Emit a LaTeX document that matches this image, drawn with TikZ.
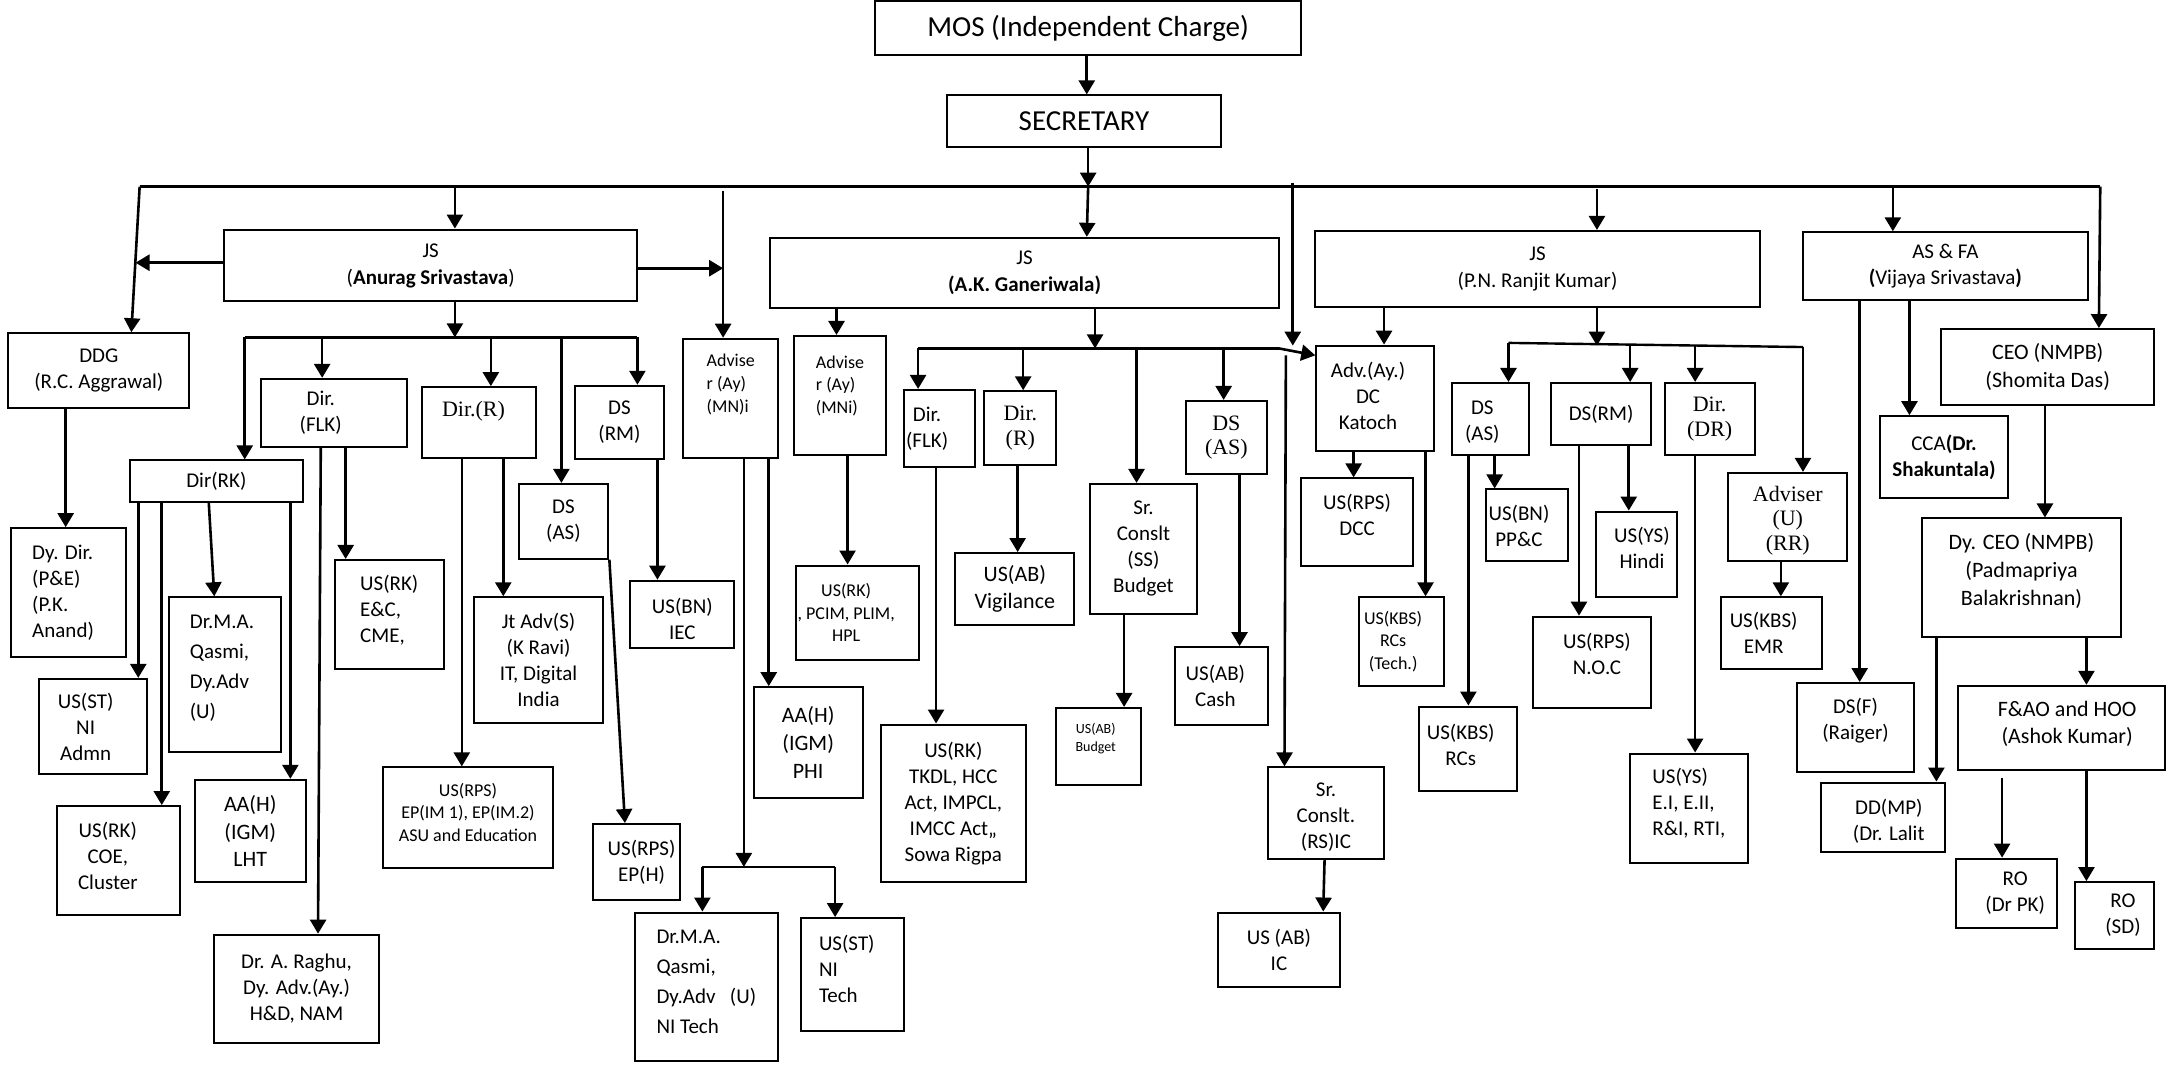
\documentclass[tikz,border=0pt]{standalone}
\usepackage{fontspec}
\setmainfont{Carlito}
\newfontfamily\tms{Liberation Serif}
\usetikzlibrary{arrows.meta}
\newcommand\bx[7][]{%
  \node[box,minimum width={(#5-#3)*0.6913pt},minimum height={(#6-#4)*0.6913pt}] (#2) at ({(#3+#5)/2},{(#4+#6)/2}) {};
  \node[txt,#1] (#2-t) at (#2.center) {#7};}
\begin{document}
\begin{tikzpicture}[x=0.6913pt,y=-0.6913pt,
  box/.style={draw,line width=1pt,inner sep=0pt,rectangle},
  txt/.style={inner sep=0pt,align=center,font=\fontsize{10.5}{13}\selectfont},
  big/.style={font=\fontsize{14.5}{17}\selectfont},
  js/.style={font=\fontsize{10.5}{13.5}\selectfont},
  jsb/.style={font=\fontsize{10.5}{13.3}\selectfont},
  small/.style={font=\fontsize{9}{11.3}\selectfont},
  tiny/.style={font=\fontsize{7}{9}\selectfont},
  tm/.style={font=\tms\fontsize{11}{12.2}\selectfont},
  sp/.style={font=\fontsize{10.5}{15}\selectfont},
  mid/.style={font=\fontsize{11}{13.8}\selectfont},
  arr/.style={line width=1.3pt,-{Triangle[length=7pt,width=8pt]}},
  ln/.style={line width=1.2pt}]
\useasboundingbox (0,0) rectangle (1568,770);
% ---- boxes ----
\bx[big]{mos}{633}{1}{941}{40}{MOS (Independent Charge)}
\bx[big]{sec}{685}{69}{883}{106}{SECRETARY}
\bx[js]{js1}{162}{166}{461}{218}{JS\\(\textbf{Anurag Srivastava})}
\bx[js]{js2}{557}{172}{925}{223}{JS\\\textbf{(A.K. Ganeriwala)}}
\bx[jsb]{js3}{951}{167}{1273}{222}{JS\\(P.N. Ranjit Kumar)}
\bx[jsb]{asfa}{1304}{168}{1510}{217}{AS \& FA\\\textbf{(}Vijaya Srivastava\textbf{)}}
\bx[mid]{ceo}{1404}{238}{1558}{293}{CEO (NMPB)\\(Shomita Das)}
\bx{ddg}{6}{241}{137}{295}{DDG\\(R.C. Aggrawal)}
\bx[anchor=west,align=left,xshift=-18.3pt]{dydir}{8}{382}{91}{475}{Dy. Dir.\\(P\&E)\\(P.K.\\Anand)}
% JS1 subtree
\bx{dirrk}{94}{333}{219}{363}{Dir(RK)}
\bx[xshift=-6.6pt]{dirflk1}{189}{274}{294}{323}{Dir.\\(FLK)}
\bx[tm,yshift=5.4pt,xshift=-2.8pt]{dirr1}{305}{280}{388}{331}{Dir.(R)}
\bx{dsas1}{375}{350}{440}{404}{DS\\(AS)}
\bx{dsrm1}{416}{279}{480}{332}{DS\\(RM)}
\bx[xshift=-3.5pt]{usst1}{28}{491}{106}{560}{US(ST)\\NI\\Admn}
\bx[sp,anchor=west,align=left,xshift=-17.6pt,yshift=3.5pt]{qasmi1}{122}{432}{203}{544}{Dr.M.A.\\Qasmi,\\Dy.Adv\\(U)}
\bx[xshift=-5.2pt,yshift=2.4pt]{usrk1}{41}{583}{130}{662}{US(RK)\\COE,\\Cluster}
\bx[mid]{aah1}{141}{564}{221}{638}{AA(H)\\(IGM)\\LHT}
\bx[align=left,yshift=2.1pt]{usrk2}{242}{405}{321}{484}{US(RK)\\E\&C,\\CME,}
\bx{raghu}{155}{676}{274}{754}{Dr. A. Raghu,\\Dy. Adv.(Ay.)\\H\&D, NAM}
\bx{jtadv}{343}{432}{436}{523}{Jt Adv(S)\\(K Ravi)\\IT, Digital\\India}
\bx[small,yshift=2.8pt]{usrps1}{277}{555}{400}{628}{US(RPS)\\EP(IM 1), EP(IM.2)\\ASU and Education}
\bx[xshift=2.4pt]{usrps2}{429}{596}{492}{651}{US(RPS)\\EP(H)}
\bx[yshift=-2.1pt]{usbn1}{456}{420}{531}{469}{US(BN)\\IEC}
% Adviser (MN)i
\bx[small,align=left,yshift=6.9pt]{adv1}{494}{245}{563}{331}{Advise\\r (Ay)\\(MN)i}
\bx[mid]{aah2}{545}{497}{624}{577}{AA(H)\\(IGM)\\PHI}
\bx[sp,anchor=west,align=left,xshift=-25.2pt,yshift=2.1pt]{qasmi2}{459}{660}{563}{767}{Dr.M.A.\\Qasmi,\\Dy.Adv\ \ \ (U)\\NI Tech}
\bx[anchor=west,align=left,xshift=-16.9pt,yshift=2.8pt]{usst2}{579}{664}{654}{746}{US(ST)\\NI\\Tech}
% JS2 subtree
\bx[small,align=left,yshift=4.8pt]{adv2}{574}{243}{641}{329}{Advise\\r (Ay)\\(MNi)}
\bx[small,xshift=-5.9pt]{usrk3}{576}{409}{665}{477}{US(RK)\\, PCIM, PLIM,\\HPL}
\bx[xshift=-6.2pt]{dirflk2}{654}{282}{705}{338}{Dir.\\(FLK)}
\bx[tm]{dirr2}{712}{283}{764}{336}{Dir.\\(R)}
\bx{usrk4}{637}{524}{742}{638}{US(RK)\\TKDL, HCC\\Act, IMPCL,\\IMCC Act,,\\Sowa Rigpa}
\bx[mid]{usabv}{691}{400}{777}{452}{US(AB)\\Vigilance}
\bx{srcons}{788}{350}{866}{444}{Sr.\\Conslt\\(SS)\\Budget}
\bx[tiny,yshift=3.8pt,xshift=-1.4pt]{usabb}{764}{512}{825}{568}{US(AB)\\Budget}
\bx[tm]{dsas2}{858}{290}{916}{343}{DS\\(AS)}
\bx[xshift=-3.1pt]{usabc}{850}{468}{917}{524}{US(AB)\\Cash}
\bx[yshift=-2.1pt]{srcons2}{917}{555}{1001}{621}{Sr.\\Conslt.\\(RS)IC}
\bx{usabic}{881}{660}{969}{714}{US (AB)\\IC}
% JS3 subtree
\bx[xshift=-3.5pt,yshift=1.4pt]{advdc}{952}{250}{1037}{326}{Adv.(Ay.)\\DC\\Katoch}
\bx[yshift=3.5pt]{usrpsdcc}{941}{346}{1022}{409}{US(RPS)\\DCC}
\bx[small,xshift=-4.1pt]{uskbst}{983}{432}{1044}{496}{US(KBS)\\RCs\\(Tech.)}
\bx[xshift=-4.1pt,yshift=-1.4pt]{dsas3}{1050}{277}{1106}{329}{DS\\(AS)}
\bx[xshift=-4.1pt]{usbnpp}{1075}{354}{1134}{406}{US(BN)\\PP\&C}
\bx[xshift=-3.5pt,yshift=1.7pt]{uskbs}{1026}{511}{1097}{572}{US(KBS)\\RCs}
\bx{dsrm3}{1122}{277}{1194}{322}{DS(RM)}
\bx[xshift=2.4pt,yshift=4.1pt]{usrpsnoc}{1109}{446}{1194}{512}{US(RPS)\\N.O.C}
\bx[xshift=2.8pt,yshift=3.1pt]{usyshindi}{1154}{370}{1213}{432}{US(YS)\\Hindi}
\bx[tm]{dirdr}{1204}{277}{1269}{329}{Dir.\\(DR)}
\bx[align=left,yshift=2.4pt]{usysei}{1179}{545}{1264}{624}{US(YS)\\E.I, E.II,\\R\&I, RTI,}
\bx[tm,yshift=-1.7pt]{advu}{1250}{342}{1336}{406}{Adviser\\(U)\\(RR)}
\bx[xshift=-4.1pt]{uskbsemr}{1245}{432}{1318}{484}{US(KBS)\\EMR}
% AS & FA / CEO subtree
\bx{cca}{1360}{301}{1452}{360}{CCA\textbf{(Dr.}\\\textbf{Shakuntala)}}
\bx[yshift=3.5pt]{dsf}{1300}{494}{1384}{558}{DS(F)\\(Raiger)}
\bx[mid,yshift=3.5pt]{dyceo}{1390}{375}{1534}{461}{Dy. CEO (NMPB)\\(Padmapriya\\Balakrishnan)}
\bx[mid,xshift=2.8pt,yshift=2.1pt]{fao}{1416}{496}{1566}{557}{F\&AO and HOO\\(Ashok Kumar)}
\bx[xshift=2.8pt,yshift=-2.1pt]{ddmp}{1317}{566}{1407}{616}{DD(MP)\\(Dr. Lalit}
\bx[xshift=4.1pt]{ropk}{1415}{621}{1488}{671}{RO\\(Dr PK)}
\bx[xshift=4.1pt]{rosd}{1501}{638}{1558}{686}{RO\\(SD)}
% ---- connectors ----
\coordinate (bA) at (101,135); \coordinate (bZ) at (1519,135);
\draw[ln] (bA) -- (bZ);
\draw[arr] (mos.south -| 786,0) -- (sec.north -| 786,0);
\coordinate (bS) at (787,135);
\draw[arr] (sec.south -| bS) -- (bS);
\draw[arr] (bS) -- (js2.north -| 786,0);
\draw[arr] (bA) -- (ddg.north -| 95,0);
\coordinate (bJ1) at (329,135); \draw[arr] (bJ1) -- (js1.north -| bJ1);
\coordinate (bAd) at (523,138); \draw[arr] (bAd) -- (adv1.north -| bAd);
\coordinate (jA) at (523,194); \draw[arr] (js1.east |- jA) -- (jA);
\coordinate (jD) at (98,190); \draw[arr] (js1.west |- jD) -- (jD);
\coordinate (bX) at (935,132); \coordinate (bXe) at (935,250); \draw[arr] (bX) -- (bXe);
\coordinate (bJ3) at (1155,137); \draw[arr] (bJ3) -- (js3.north -| bJ3);
\coordinate (bAS) at (1369,135); \draw[arr] (bAS) -- (asfa.north -| bAS);
\draw[arr] (bZ) -- (ceo.north -| 1518,0);
% JS1
\coordinate (s1m) at (329,244); \draw[arr] (js1.south -| s1m) -- (s1m);
\coordinate (s1a) at (177,244); \coordinate (s1e) at (461,244);
\draw[ln] (s1a) -- (s1e);
\coordinate (s1b) at (233,244); \coordinate (s1c) at (355,244); \coordinate (s1d) at (406,244);
\draw[arr] (s1a) -- (dirrk.north -| s1a);
\draw[arr] (s1b) -- (dirflk1.north -| s1b);
\draw[arr] (s1c) -- (dirr1.north -| s1c);
\draw[arr] (s1d) -- (dsas1.north -| s1d);
\draw[arr] (s1e) -- (dsrm1.north -| s1e);
\draw[arr] (dirrk.south -| 100,0) -- (usst1.north -| 100,0);
\draw[arr] (dirrk.south -| 117,0) -- (usrk1.north -| 117,0);
\draw[arr] (dirrk.south -| 151,0) -- (qasmi1.north -| 155,0);
\draw[arr] (dirrk.south -| 210,0) -- (aah1.north -| 210,0);
\draw[arr] (dirflk1.south -| 232,0) -- (raghu.north -| 230,0);
\draw[arr] (dirflk1.south -| 250,0) -- (usrk2.north -| 250,0);
\draw[arr] (dirr1.south -| 334,0) -- (usrps1.north -| 334,0);
\draw[arr] (dirr1.south -| 364,0) -- (jtadv.north -| 364,0);
\draw[arr] (dsas1.south east) -- (usrps2.north -| 452,0);
\draw[arr] (dsrm1.south -| 475.5,0) -- (usbn1.north -| 475.5,0);
\draw[arr] (ddg.south -| 47.5,0) -- (dydir.north -| 47.5,0);
% Adviser (MN)i
\coordinate (a1m) at (538,627); \draw[arr] (adv1.south -| a1m) -- (a1m);
\coordinate (a1l) at (508,627); \coordinate (a1r) at (604,627);
\draw[ln] (a1l) -- (a1r);
\draw[arr] (a1l) -- (qasmi2.north -| a1l);
\draw[arr] (a1r) -- (usst2.north -| a1r);
\draw[arr] (adv1.south -| 556,0) -- (aah2.north -| 556,0);
% JS2
\draw[arr] (js2.south -| 605,0) -- (adv2.north -| 605,0);
\coordinate (s2m) at (792,252); \draw[arr] (js2.south -| s2m) -- (s2m);
\coordinate (s2a) at (664,252); \coordinate (s2e) at (925,252);
\draw[ln] (s2a) -- (s2e);
\draw[arr] (s2e) -- (advdc.west |- 0,257);
\coordinate (s2b) at (740,252); \coordinate (s2c) at (822,252); \coordinate (s2d) at (885,252);
\draw[arr] (s2a) -- (dirflk2.north -| s2a);
\draw[arr] (s2b) -- (dirr2.north -| s2b);
\draw[arr] (s2c) -- (srcons.north -| s2c);
\draw[arr] (s2d) -- (dsas2.north -| s2d);
\draw[arr] (adv2.south -| 613,0) -- (usrk3.north -| 613,0);
\draw[arr] (dirflk2.south -| 677,0) -- (usrk4.north -| 677,0);
\draw[arr] (dirr2.south -| 736,0) -- (usabv.north -| 736,0);
\draw[arr] (srcons.south -| 813,0) -- (usabb.north -| 813,0);
\draw[arr] (dsas2.south -| 896.5,0) -- (usabc.north -| 896.5,0);
\coordinate (s2x) at (930,257); \draw[arr] (s2x) -- (srcons2.north -| 929,0);
\draw[arr] (srcons2.south -| 958,0) -- (usabic.north -| 957,0);
% JS3
\draw[arr] (js3.south -| 1001,0) -- (advdc.north -| 1001,0);
\coordinate (s3m) at (1155,250); \draw[arr] (js3.south -| s3m) -- (s3m);
\coordinate (s3a) at (1091,248); \coordinate (s3d) at (1304,251);
\draw[ln] (s3a) -- (s3d);
\coordinate (s3b) at (1179,249.3); \coordinate (s3c) at (1226,249.9);
\draw[arr] (s3a) -- (dsas3.north -| s3a);
\draw[arr] (s3b) -- (dsrm3.north -| s3b);
\draw[arr] (s3c) -- (dirdr.north -| s3c);
\draw[arr] (s3d) -- (advu.north -| s3d);
\draw[arr] (advdc.south -| 979,0) -- (usrpsdcc.north -| 979,0);
\draw[arr] (advdc.south -| 1031,0) -- (uskbst.north -| 1031,0);
\draw[arr] (dsas3.south -| 1062,0) -- (uskbs.north -| 1062,0);
\draw[arr] (dsas3.south -| 1081,0) -- (usbnpp.north -| 1081,0);
\draw[arr] (dsrm3.south -| 1142,0) -- (usrpsnoc.north -| 1142,0);
\draw[arr] (dsrm3.south -| 1178,0) -- (usyshindi.north -| 1178,0);
\draw[arr] (dirdr.south -| 1226,0) -- (usysei.north -| 1226,0);
\draw[arr] (advu.south -| 1288,0) -- (uskbsemr.north -| 1288,0);
% AS&FA, CEO
\draw[arr] (asfa.south -| 1345,0) -- (dsf.north -| 1345,0);
\draw[arr] (asfa.south -| 1381,0) -- (cca.north -| 1381,0);
\draw[arr] (ceo.south -| 1479,0) -- (dyceo.north -| 1479,0);
\draw[arr] (dyceo.south -| 1400.5,0) -- (ddmp.north -| 1400.5,0);
\draw[arr] (dyceo.south -| 1509,0) -- (fao.north -| 1509,0);
\coordinate (fk) at (1448,563); \draw[arr] (fk) -- (ropk.north -| fk);
\draw[arr] (fao.south -| 1509,0) -- (rosd.north -| 1509,0);
\end{tikzpicture}
\end{document}
